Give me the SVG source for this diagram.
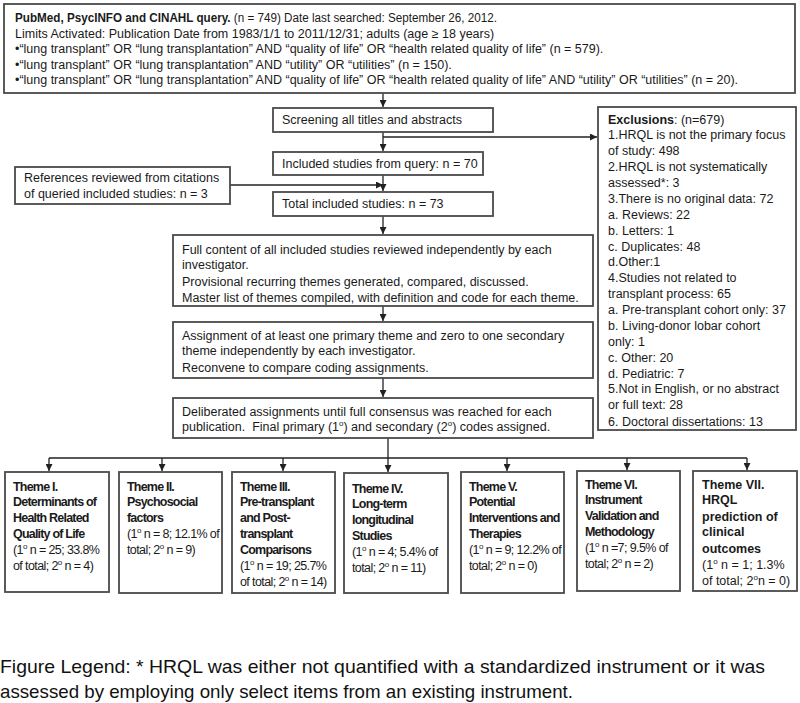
<svg xmlns="http://www.w3.org/2000/svg" width="800" height="703" viewBox="0 0 800 703">
<defs>
<marker id="ah" viewBox="0 0 10 10" refX="10" refY="5" markerWidth="7" markerHeight="7" orient="auto" markerUnits="userSpaceOnUse">
<path d="M0,0 L10,5 L0,10 z" fill="#222"/>
</marker>
<style>
.box{fill:#fff;stroke:#4a4a4a;stroke-width:1.8}
.t{font-family:"Liberation Sans",Arial,sans-serif;font-size:12.5px;fill:#1a1a1a}
.b{font-weight:bold}
.th{font-family:"Liberation Sans",Arial,sans-serif;font-size:12.5px;font-weight:bold;fill:#1a1a1a;letter-spacing:-0.8px}
.tn{font-family:"Liberation Sans",Arial,sans-serif;font-size:12.5px;fill:#1a1a1a;letter-spacing:-0.6px}
.sup{font-size:8px}
.c{fill:none;stroke:#222;stroke-width:1.3}
.leg{font-family:"Liberation Sans",Arial,sans-serif;font-size:19px;fill:#111}
</style>
</defs>
<rect width="800" height="703" fill="#fff"/>

<g id="connectors">
<path class="c" d="M383,93 V107" marker-end="url(#ah)"/>
<path class="c" d="M383,137 H597" marker-end="url(#ah)"/>
<path class="c" d="M383,132 V151" marker-end="url(#ah)"/>
<path class="c" d="M230,185 H383" marker-end="url(#ah)"/>
<path class="c" d="M383,175 V191" marker-end="url(#ah)"/>
<path class="c" d="M383,216 V234" marker-end="url(#ah)"/>
<path class="c" d="M383,306 V321" marker-end="url(#ah)"/>
<path class="c" d="M383,378 V397" marker-end="url(#ah)"/>
<path class="c" d="M388,438 V472" marker-end="url(#ah)"/>
<path class="c" d="M49,458 H747"/>
<path class="c" d="M49,458 V471" marker-end="url(#ah)"/>
<path class="c" d="M162,458 V471" marker-end="url(#ah)"/>
<path class="c" d="M283,458 V471" marker-end="url(#ah)"/>
<path class="c" d="M507,458 V471" marker-end="url(#ah)"/>
<path class="c" d="M627,458 V470" marker-end="url(#ah)"/>
<path class="c" d="M747,458 V470" marker-end="url(#ah)"/>
</g>

<g id="query">
<rect class="box" x="4" y="4" width="791" height="89"/>
<text class="t" x="15" y="22" textLength="482" lengthAdjust="spacingAndGlyphs"><tspan class="b">PubMed, PsycINFO and CINAHL query.</tspan> (n = 749) Date last searched: September 26, 2012.</text>
<text class="t" x="15" y="38">Limits Activated: Publication Date from 1983/1/1 to 2011/12/31; adults (age ≥ 18 years)</text>
<text class="t" x="15" y="53">•“lung transplant” OR “lung transplantation” AND “quality of life” OR “health related quality of life” (n = 579).</text>
<text class="t" x="15" y="69">•“lung transplant” OR “lung transplantation” AND “utility” OR “utilities” (n = 150).</text>
<text class="t" x="15" y="84">•“lung transplant” OR “lung transplantation” AND “quality of life” OR “health related quality of life” AND “utility” OR “utilities” (n = 20).</text>
</g>

<g id="screening">
<rect class="box" x="273" y="108" width="220" height="24"/>
<text class="t" x="282" y="124">Screening all titles and abstracts</text>
</g>

<g id="included">
<rect class="box" x="273" y="152" width="210" height="23"/>
<text class="t" x="282" y="168">Included studies from query: n = 70</text>
</g>

<g id="references">
<rect class="box" x="15" y="167" width="215" height="37"/>
<text class="t" x="24" y="182">References reviewed from citations</text>
<text class="t" x="24" y="198">of queried included studies: n = 3</text>
</g>

<g id="total">
<rect class="box" x="273" y="192" width="220" height="24"/>
<text class="t" x="282" y="208">Total included studies: n = 73</text>
</g>

<g id="fullcontent">
<rect class="box" x="173" y="235" width="420" height="71"/>
<text class="t" x="182" y="254">Full content of all included studies reviewed independently by each</text>
<text class="t" x="182" y="269">investigator.</text>
<text class="t" x="182" y="286">Provisional recurring themes generated, compared, discussed.</text>
<text class="t" x="182" y="302">Master list of themes compiled, with definition and code for each theme.</text>
</g>

<g id="assignment">
<rect class="box" x="173" y="322" width="420" height="56"/>
<text class="t" x="182" y="340">Assignment of at least one primary theme and zero to one secondary</text>
<text class="t" x="182" y="355">theme independently by each investigator.</text>
<text class="t" x="182" y="372">Reconvene to compare coding assignments.</text>
</g>

<g id="deliberated">
<rect class="box" x="173" y="398" width="420" height="40"/>
<text class="t" x="182" y="416">Deliberated assignments until full consensus was reached for each</text>
<text class="t" x="182" y="431">publication. &#160;Final primary (1<tspan class="sup" dy="-5">o</tspan><tspan dy="5">) and secondary (2</tspan><tspan class="sup" dy="-5">o</tspan><tspan dy="5">) codes assigned.</tspan></text>
</g>

<g id="exclusions">
<rect class="box" x="598" y="107" width="198" height="323"/>
<text class="t" x="608" y="123.5"><tspan class="b">Exclusions</tspan>: (n=679)</text>
<text class="t" x="608" y="139.4">1.HRQL is not the primary focus</text>
<text class="t" x="608" y="155.2">of study: 498</text>
<text class="t" x="608" y="171.1">2.HRQL is not systematically</text>
<text class="t" x="608" y="187">assessed*: 3</text>
<text class="t" x="608" y="202.9">3.There is no original data: 72</text>
<text class="t" x="608" y="218.7">a. Reviews: 22</text>
<text class="t" x="608" y="234.6">b. Letters: 1</text>
<text class="t" x="608" y="250.5">c. Duplicates: 48</text>
<text class="t" x="608" y="266.4">d.Other:1</text>
<text class="t" x="608" y="282.2">4.Studies not related to</text>
<text class="t" x="608" y="298.1">transplant process: 65</text>
<text class="t" x="608" y="314">a. Pre-transplant cohort only: 37</text>
<text class="t" x="608" y="329.9">b. Living-donor lobar cohort</text>
<text class="t" x="608" y="345.7">only: 1</text>
<text class="t" x="608" y="361.6">c. Other: 20</text>
<text class="t" x="608" y="377.5">d. Pediatric: 7</text>
<text class="t" x="608" y="393.4">5.Not in English, or no abstract</text>
<text class="t" x="608" y="409.2">or full text: 28</text>
<text class="t" x="608" y="425.5">6. Doctoral dissertations: 13</text>
</g>

<g id="theme1">
<rect class="box" x="5" y="472" width="104" height="120"/>
<text class="th" x="13" y="491">Theme I.</text>
<text class="th" x="13" y="506">Determinants of</text>
<text class="th" x="13" y="522">Health Related</text>
<text class="th" x="13" y="538">Quality of Life</text>
<text class="tn" x="13" y="554">(1<tspan class="sup" dy="-5">o</tspan><tspan dy="5"> n = 25; 33.8%</tspan></text>
<text class="tn" x="13" y="570">of total; 2<tspan class="sup" dy="-5">o</tspan><tspan dy="5"> n = 4)</tspan></text>
</g>

<g id="theme2">
<rect class="box" x="119" y="472" width="103" height="121"/>
<text class="th" x="127" y="491">Theme II.</text>
<text class="th" x="127" y="506">Psychosocial</text>
<text class="th" x="127" y="522">factors</text>
<text class="tn" x="127" y="538">(1<tspan class="sup" dy="-5">o</tspan><tspan dy="5"> n = 8; 12.1% of</tspan></text>
<text class="tn" x="127" y="554">total; 2<tspan class="sup" dy="-5">o</tspan><tspan dy="5"> n = 9)</tspan></text>
</g>

<g id="theme3">
<rect class="box" x="232" y="472" width="103" height="121"/>
<text class="th" x="240" y="491">Theme III.</text>
<text class="th" x="240" y="506">Pre-transplant</text>
<text class="th" x="240" y="522">and Post-</text>
<text class="th" x="240" y="538">transplant</text>
<text class="th" x="240" y="554">Comparisons</text>
<text class="tn" x="240" y="570">(1<tspan class="sup" dy="-5">o</tspan><tspan dy="5"> n = 19; 25.7%</tspan></text>
<text class="tn" x="240" y="586">of total; 2<tspan class="sup" dy="-5">o</tspan><tspan dy="5"> n = 14)</tspan></text>
</g>

<g id="theme4">
<rect class="box" x="344" y="473" width="104" height="120"/>
<text class="th" x="352" y="493">Theme IV.</text>
<text class="th" x="352" y="508">Long-term</text>
<text class="th" x="352" y="524">longitudinal</text>
<text class="th" x="352" y="540">Studies</text>
<text class="tn" x="352" y="556">(1<tspan class="sup" dy="-5">o</tspan><tspan dy="5"> n = 4; 5.4% of</tspan></text>
<text class="tn" x="352" y="572">total; 2<tspan class="sup" dy="-5">o</tspan><tspan dy="5"> n = 11)</tspan></text>
</g>

<g id="theme5">
<rect class="box" x="461" y="472" width="103" height="121"/>
<text class="th" x="469" y="491">Theme V.</text>
<text class="th" x="469" y="506">Potential</text>
<text class="th" x="469" y="522">Interventions and</text>
<text class="th" x="469" y="538">Therapies</text>
<text class="tn" x="469" y="554">(1<tspan class="sup" dy="-5">o</tspan><tspan dy="5"> n = 9; 12.2% of</tspan></text>
<text class="tn" x="469" y="570">total; 2<tspan class="sup" dy="-5">o</tspan><tspan dy="5"> n = 0)</tspan></text>
</g>

<g id="theme6">
<rect class="box" x="577" y="471" width="103" height="120"/>
<text class="th" x="585" y="489">Theme VI.</text>
<text class="th" x="585" y="504">Instrument</text>
<text class="th" x="585" y="520">Validation and</text>
<text class="th" x="585" y="536">Methodology</text>
<text class="tn" x="585" y="552">(1<tspan class="sup" dy="-5">o</tspan><tspan dy="5"> n =7; 9.5% of</tspan></text>
<text class="tn" x="585" y="568">total; 2<tspan class="sup" dy="-5">o</tspan><tspan dy="5"> n = 2)</tspan></text>
</g>

<g id="theme7">
<rect class="box" x="693" y="471" width="104" height="120"/>
<text class="t b" x="702" y="489">Theme VII.</text>
<text class="t b" x="702" y="504">HRQL</text>
<text class="t b" x="702" y="521">prediction of</text>
<text class="t b" x="702" y="536">clinical</text>
<text class="t b" x="702" y="553">outcomes</text>
<text class="t" x="702" y="569">(1<tspan class="sup" dy="-5">o</tspan><tspan dy="5"> n = 1; 1.3%</tspan></text>
<text class="t" x="702" y="585">of total; 2<tspan class="sup" dy="-5">o</tspan><tspan dy="5">n = 0)</tspan></text>
</g>

<g id="legend">
<text class="leg" x="0" y="673" textLength="765" lengthAdjust="spacingAndGlyphs">Figure Legend: * HRQL was either not quantified with a standardized instrument or it was</text>
<text class="leg" x="0" y="698" textLength="573" lengthAdjust="spacingAndGlyphs">assessed by employing only select items from an existing instrument.</text>
</g>
</svg>
